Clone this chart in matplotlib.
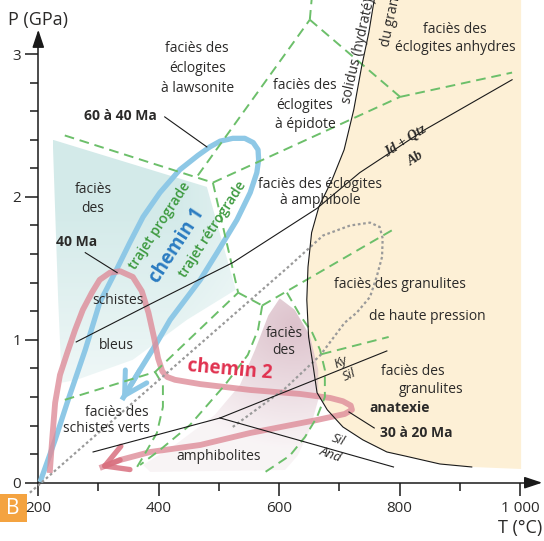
import numpy as np
import matplotlib.pyplot as plt
from matplotlib.patches import Polygon, Rectangle

plt.rcParams['font.family'] = ['Open Sans', 'DejaVu Sans']

# all curves in (T in °C, P in GPa)

# solidus of hydrated granite
solidus_T = [758, 749, 737, 724, 708, 688, 666, 654, 648, 646, 649, 655, 663, 680, 706, 739, 779, 809, 867, 920]
solidus_P = [3.38, 3.15, 2.91, 2.61, 2.33, 2.12, 1.93, 1.75, 1.51, 1.28, 1.02, 0.86, 0.63, 0.51, 0.39, 0.30, 0.215, 0.187, 0.131, 0.110]
beige_edge_T = [1002, 1002]
beige_edge_P = [0.096, 3.38]

# blueschist shaded zone
teal_T = [224, 480, 498, 528, 447, 357, 264, 239, 233]
teal_P = [2.40, 2.07, 1.80, 1.35, 1.14, 0.86, 0.72, 0.70, 1.28]

# amphibolite shaded zone
pink_T = [601, 626, 651, 665, 665, 651, 631, 610, 386, 374, 427, 493, 535, 560, 582]
pink_P = [1.29, 1.21, 1.03, 0.79, 0.58, 0.37, 0.19, 0.089, 0.075, 0.124, 0.264, 0.474, 0.684, 0.929, 1.17]

# facies boundaries (green dashed)
facies_lines = [
    ([244, 490], [2.43, 2.10]),
    ([465, 651], [2.15, 3.24]),
    ([651, 654], [3.24, 3.38]),
    ([651, 801], [3.24, 2.70]),
    ([801, 987], [2.70, 2.87]),
    ([490, 801], [2.10, 2.70]),
    ([490, 532], [2.10, 1.33]),
    ([532, 572], [1.33, 1.24]),
    ([572, 793], [1.24, 1.78]),
    ([244, 394], [0.58, 0.775]),
    ([394, 532], [0.775, 1.33]),
    ([394, 407, 407, 397, 374, 364], [0.775, 0.684, 0.530, 0.348, 0.180, 0.110]),
    ([572, 565, 548, 510, 452, 402, 369], [1.24, 1.07, 0.894, 0.684, 0.404, 0.229, 0.124]),
    ([613, 635, 655, 668, 676, 676, 663, 643, 618, 577], [1.33, 1.17, 1.05, 0.93, 0.79, 0.60, 0.46, 0.32, 0.19, 0.075]),
    ([671, 782], [0.90, 1.02]),
]

# dotted curve
dotted_T = [186, 618, 673, 718, 751, 767, 772, 771, 762, 751, 729, 709, 668, 610, 523]
dotted_P = [-0.07, 1.52, 1.73, 1.80, 1.82, 1.79, 1.71, 1.58, 1.44, 1.30, 1.19, 1.12, 0.89, 0.66, 0.39]

# reactions (black)
jadeite_T = [263, 386, 523, 663, 734, 842, 987]
jadeite_P = [0.985, 1.25, 1.54, 1.92, 2.17, 2.47, 2.82]
ky_and_T = [291, 502]
ky_and_P = [0.215, 0.453]
ky_sil_T = [502, 779]
ky_sil_P = [0.453, 0.922]
sil_and_T = [502, 790]
sil_and_P = [0.453, 0.110]

# leaders
leaders = [
    ([410, 480], [2.56, 2.35]),
    ([278, 331], [1.61, 1.47]),
    ([716, 758], [0.495, 0.383]),
]

# P-T-t paths
chemin1_T = [203, 228, 248, 278, 302, 331, 352, 374, 402, 435, 465, 485, 502, 523, 543, 557, 565, 566, 563, 552, 530, 497, 469, 419, 397, 369, 339]
chemin1_P = [0.005, 0.30, 0.56, 0.93, 1.26, 1.50, 1.68, 1.86, 2.03, 2.19, 2.29, 2.35, 2.39, 2.41, 2.41, 2.38, 2.33, 2.26, 2.17, 2.03, 1.84, 1.61, 1.42, 1.14, 0.98, 0.79, 0.58]
chemin2_T = [219, 223, 228, 236, 248, 261, 274, 289, 302, 319, 336, 357, 372, 383, 392, 399, 406, 414, 427, 469, 552, 635, 685, 706, 719, 721, 709, 663, 552, 469, 386, 336, 302]
chemin2_P = [0.068, 0.30, 0.56, 0.754, 0.908, 1.068, 1.21, 1.33, 1.42, 1.47, 1.48, 1.44, 1.34, 1.19, 1.02, 0.87, 0.78, 0.74, 0.72, 0.69, 0.649, 0.621, 0.593, 0.57, 0.54, 0.51, 0.481, 0.439, 0.348, 0.264, 0.215, 0.159, 0.103]

x_major = [200, 400, 600, 800, 1000]
x_major_labels = ['200', '400', '600', '800', '1 000']
x_minor = [300, 500, 700, 900]
y_major = [0, 1, 2, 3]
y_minor = [0.2, 0.4, 0.6, 0.8, 1.2, 1.4, 1.6, 1.8, 2.2, 2.4, 2.6, 2.8]

txt = '#2b2a29'
green = '#6cbf6a'
green_txt = '#3d9a3f'

fig = plt.figure(figsize=(5.44, 5.41), dpi=100)
ax = fig.add_axes([0, 0, 1, 1])
ax.set_xlim(136.4, 1040)
ax.set_ylim(-0.408, 3.378)

# beige granulite / anhydrous eclogite field
bx = solidus_T + beige_edge_T
by = solidus_P + beige_edge_P
ax.add_patch(Polygon(np.column_stack([bx, by]), closed=True, facecolor='#fdf0d6', edgecolor='none', zorder=0.5))


def gradient_patch(poly_T, poly_P, rgb, alpha_of):
    xs = np.linspace(min(poly_T), max(poly_T), 200)
    ys = np.linspace(min(poly_P), max(poly_P), 200)
    X, Y = np.meshgrid(xs, ys)
    img = np.zeros((len(ys), len(xs), 4))
    img[..., :3] = rgb
    img[..., 3] = alpha_of(X, Y)
    im = ax.imshow(img, extent=[xs[0], xs[-1], ys[0], ys[-1]], origin='lower',
                   aspect='auto', interpolation='bilinear', zorder=1)
    clip = Polygon(np.column_stack([poly_T, poly_P]), closed=True, facecolor='none',
                   edgecolor='none', transform=ax.transData)
    ax.add_patch(clip)
    im.set_clip_path(clip)


gradient_patch(teal_T, teal_P, (0.82, 0.915, 0.91),
               lambda X, Y: (0.35 + 0.6 * np.clip((Y - 0.7) / 1.2, 0, 1))
               * (1 - 0.35 * np.clip((X - 430) / 100, 0, 1)))
gradient_patch(pink_T, pink_P, (0.86, 0.75, 0.79),
               lambda X, Y: np.clip(1.0 - np.hypot((X - 625) / 280, (Y - 1.1) / 1.05), 0.18, 1) * 0.95)

# boundaries
for xs, ys in facies_lines:
    ax.plot(xs, ys, color=green, lw=1.4, dashes=(5, 3), zorder=3, solid_capstyle='butt')
ax.plot(dotted_T, dotted_P, color='#9a9a9a', lw=1.6, dashes=(1.2, 1.2), zorder=3)
for xs, ys in [(jadeite_T, jadeite_P), (ky_and_T, ky_and_P), (ky_sil_T, ky_sil_P), (sil_and_T, sil_and_P)]:
    ax.plot(xs, ys, color='#1a1a1a', lw=0.8, zorder=3.2)
ax.plot(solidus_T, solidus_P, color='#1a1a1a', lw=0.8, zorder=3.2)
for xs, ys in leaders:
    ax.plot(xs, ys, color='#1a1a1a', lw=0.8, zorder=3.2)

# paths
blue = '#8ec8e6'
pink = '#de8c99'
ax.plot(chemin1_T, chemin1_P, color=blue, lw=3.8, zorder=2.6, solid_capstyle='butt', solid_joinstyle='round')
ax.annotate('', xy=(chemin1_T[-1], chemin1_P[-1]), xytext=(chemin1_T[-2], chemin1_P[-2]),
            arrowprops=dict(arrowstyle='->,head_length=0.8,head_width=0.45', color=blue, lw=3.6,
                            shrinkA=0, shrinkB=0, mutation_scale=20), zorder=2.6)
ax.plot(chemin2_T, chemin2_P, color=pink, lw=4.2, alpha=0.8, zorder=2.7, solid_capstyle='butt', solid_joinstyle='round')
ax.annotate('', xy=(chemin2_T[-1], chemin2_P[-1]), xytext=(chemin2_T[-2], chemin2_P[-2]),
            arrowprops=dict(arrowstyle='->,head_length=0.8,head_width=0.45', color='#d9707f', lw=3.8,
                            shrinkA=0, shrinkB=0, mutation_scale=20, alpha=0.85), zorder=2.7)

# axes
for s in ['top', 'right']:
    ax.spines[s].set_visible(False)
ax.spines['left'].set_position(('data', 200))
ax.spines['bottom'].set_position(('data', 0))
ax.spines['left'].set_bounds(0, 3.1)
ax.spines['bottom'].set_bounds(200, 1025)
for s in ['left', 'bottom']:
    ax.spines[s].set_linewidth(1.1)
    ax.spines[s].set_color('#1a1a1a')
ax.annotate('', xy=(200, 3.17), xytext=(200, 3.05),
            arrowprops=dict(arrowstyle='-|>,head_length=0.9,head_width=0.3', color='#1a1a1a', lw=1.1,
                            shrinkA=0, shrinkB=0, mutation_scale=12))
ax.annotate('', xy=(1037, 0), xytext=(1015, 0),
            arrowprops=dict(arrowstyle='-|>,head_length=0.9,head_width=0.3', color='#1a1a1a', lw=1.1,
                            shrinkA=0, shrinkB=0, mutation_scale=12))
ax.set_xticks(x_major)
ax.set_xticklabels(x_major_labels)
ax.set_xticks(x_minor, minor=True)
ax.set_yticks(y_major)
ax.set_yticks(y_minor, minor=True)
ax.tick_params(which='major', direction='out', length=9.5, width=1.1, color='#1a1a1a',
               labelsize=11, labelcolor=txt)
ax.tick_params(which='minor', direction='out', length=5.5, width=1.1, color='#1a1a1a')
ax.tick_params(axis='x', which='major', pad=4)
ax.tick_params(axis='y', which='major', pad=3)

ax.text(150, 3.238, 'P (GPa)', fontsize=13, color=txt, ha='left', va='center')
ax.text(1001, -0.317, 'T (°C)', fontsize=13, color=txt, ha='center', va='center')

# "B" tag
ax.add_patch(Rectangle((136.4, -0.276), 44.6, 0.196, facecolor='#f4a340', edgecolor='none', clip_on=False))
ax.text(158, -0.178, 'B', fontsize=15, color='white', ha='center', va='center')

# facies names
fs = 10
facies_text = [
    ('faciès des\néclogites\nà lawsonite', 464, 2.90, 1.45),
    ('faciès des\néclogites\nà épidote', 643, 2.643, 1.4),
    ('faciès des\néclogites anhydres', 892, 3.11, 1.3),
    ('faciès des éclogites\nà amphibole', 668, 2.03, 1.05),
    ('faciès\ndes', 291, 1.985, 1.3),
    ('schistes', 333, 1.277, 1.2),
    ('bleus', 329, 0.963, 1.2),
    ('faciès des', 331, 0.488, 1.2),
    ('schistes verts', 314, 0.376, 1.2),
    ('amphibolites', 499, 0.180, 1.2),
    ('faciès\ndes', 608, 0.985, 1.25),
    ('faciès des granulites', 801, 1.39, 1.2),
    ('de haute pression', 847, 1.16, 1.2),
    ('faciès des', 822, 0.775, 1.2),
    ('granulites', 853, 0.649, 1.2),
]
for s, x, y, ls in facies_text:
    ax.text(x, y, s, fontsize=fs, color=txt, ha='center', va='center', linespacing=ls, zorder=5)

ages = [('60 à 40 Ma', 337, 2.566), ('40 Ma', 263, 1.683), ('anatexie', 801, 0.523), ('30 à 20 Ma', 827, 0.348)]
for s, x, y in ages:
    ax.text(x, y, s, fontsize=10, fontweight='bold', color=txt, ha='center', va='center', zorder=5)

ax.text(402, 1.80, 'trajet prograde', fontsize=10, fontweight='semibold', color=green_txt,
        rotation=57, ha='center', va='center', zorder=5)
ax.text(430, 1.66, 'chemin 1', fontsize=13.5, fontweight='bold', color='#2b7cc1',
        rotation=57, ha='center', va='center', zorder=5)
ax.text(489, 1.77, 'trajet rétrograde', fontsize=10, fontweight='semibold', color=green_txt,
        rotation=57, ha='center', va='center', zorder=5)
ax.text(518, 0.789, 'chemin 2', fontsize=13.5, fontweight='bold', color='#e0314f',
        rotation=-5, ha='center', va='center', zorder=5)

# reaction labels
ax.text(703, 0.842, 'Ky', fontsize=9.5, color=txt, rotation=25, ha='center', va='center', style='italic', zorder=5)
ax.text(717, 0.754, 'Sil', fontsize=9.5, color=txt, rotation=25, ha='center', va='center', style='italic', zorder=5)
ax.text(698, 0.299, 'Sil', fontsize=9.5, color=txt, rotation=-20, ha='center', va='center', style='italic', zorder=5)
ax.text(686, 0.20, 'And', fontsize=9.5, color=txt, rotation=-20, ha='center', va='center', style='italic', zorder=5)
ax.text(809, 2.39, 'Jd + Qtz', fontsize=10, color=txt, rotation=33, ha='center', va='center',
        family='Liberation Serif', style='italic', fontweight='bold', zorder=5)
ax.text(827, 2.27, 'Ab', fontsize=10, color=txt, rotation=33, ha='center', va='center',
        family='Liberation Serif', style='italic', fontweight='bold', zorder=5)

ax.text(718, 2.65, 'solidus (hydraté)', fontsize=10, color=txt, rotation=77, rotation_mode='anchor',
        ha='left', va='baseline', zorder=5)
ax.text(782, 3.05, 'du granite', fontsize=10, color=txt, rotation=78, rotation_mode='anchor',
        ha='left', va='baseline', zorder=5)

fig.savefig('out.png', dpi=100)
